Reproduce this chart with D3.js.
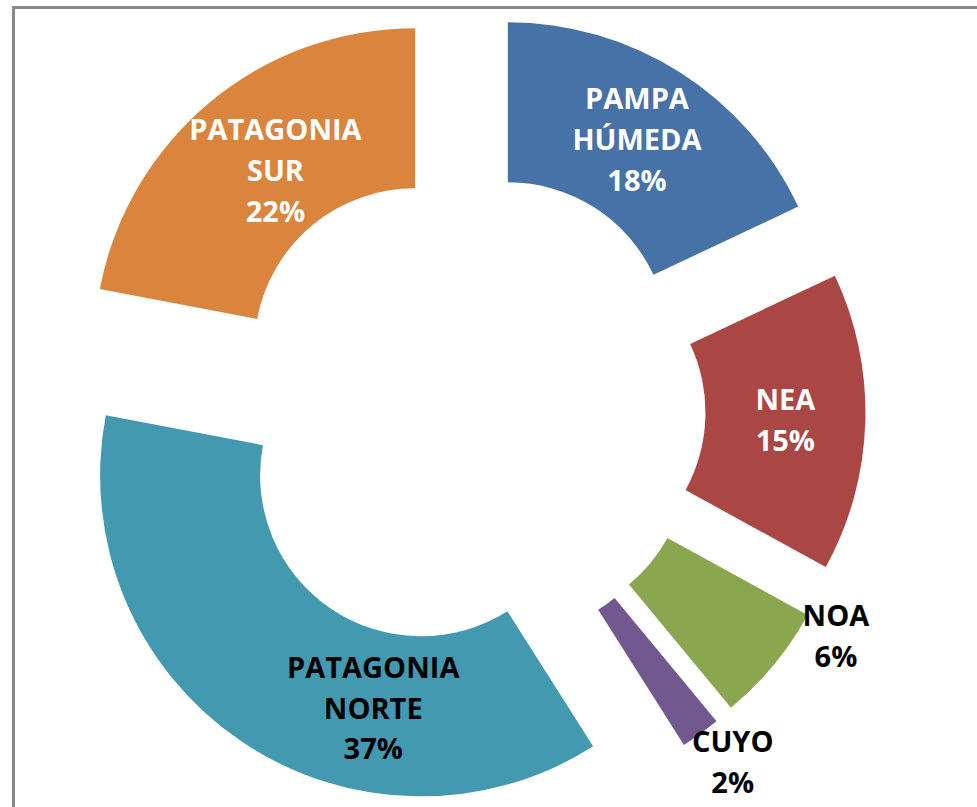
<!DOCTYPE html>
<html>
<head>
<meta charset="utf-8">
<script src="https://cdn.jsdelivr.net/npm/d3@7"></script>
<style>
  body { margin: 0; background: #fff; }
  text { font-family: "Open Sans", "Liberation Sans", sans-serif; font-weight: bold; }
</style>
</head>
<body>
<script>
(function(){
//chart data
var regions = ["PAMPA HÚMEDA", "NEA", "NOA", "CUYO", "PATAGONIA NORTE", "PATAGONIA SUR"];
var shares = [18, 15, 6, 2, 37, 22];
var labelLines = [["PAMPA", "HÚMEDA"], ["NEA"], ["NOA"], ["CUYO"], ["PATAGONIA", "NORTE"], ["PATAGONIA", "SUR"]];
var colors = ["#4672A8", "#AA4744", "#8AA64F", "#71598F", "#4399AF", "#DB843E"];
var labelColors = ["#fff", "#fff", "#000", "#000", "#000", "#fff"];

window.onload = setChart();

function setChart(){
    var width = 977,
        height = 807;

    var svg = d3.select("body")
        .append("svg")
        .attr("width", width)
        .attr("height", height);

    //frame (only left and top edges visible in the crop)
    svg.append("rect")
        .attr("x", 13.5)
        .attr("y", 7.5)
        .attr("width", width)
        .attr("height", height)
        .style("fill", "none")
        .style("stroke", "#888")
        .style("stroke-width", 3);

    //doughnut geometry
    var cx = 465.5, cy = 410,
        outerR = 321, innerR = 161,
        explode = 79;

    var pie = d3.pie()
        .sort(null)
        .value(function(d){ return d; });

    var arc = d3.arc()
        .innerRadius(innerR)
        .outerRadius(outerR);

    var arcs = pie(shares);

    var g = svg.append("g")
        .attr("transform", "translate(" + cx + "," + cy + ")");

    //offset of a slice along its bisector
    function shift(d){
        var mid = (d.startAngle + d.endAngle) / 2;
        return [explode * Math.sin(mid), -explode * Math.cos(mid)];
    };

    g.selectAll(".slice")
        .data(arcs)
        .enter()
        .append("path")
        .attr("class", "slice")
        .attr("d", arc)
        .attr("transform", function(d){
            var s = shift(d);
            return "translate(" + s[0] + "," + s[1] + ")";
        })
        .style("fill", function(d, i){ return colors[i]; });

    //labels that were dragged away from the centroid (angle in degrees, distance from centre)
    var moved = { 2: [121.4, 434], 3: [142.8, 442], 4: [197.2, 312], 5: [321.6, 306] };

    var lineH = 41;
    var labels = g.selectAll(".label")
        .data(arcs)
        .enter()
        .append("text")
        .attr("class", "label")
        .attr("text-anchor", "middle")
        .style("font-size", "29px")
        .style("fill", function(d, i){ return labelColors[i]; })
        .attr("transform", function(d, i){
            var p;
            if (moved[i]){
                var a = moved[i][0] * Math.PI / 180;
                p = [moved[i][1] * Math.sin(a), -moved[i][1] * Math.cos(a)];
            } else {
                var c = arc.centroid(d), s = shift(d);
                p = [c[0] + s[0], c[1] + s[1]];
            };
            return "translate(" + p[0] + "," + p[1] + ")";
        });

    labels.each(function(d, i){
        var lines = labelLines[i].concat([shares[i] + "%"]);
        var t = d3.select(this);
        var top = -(lines.length - 1) * lineH / 2;
        lines.forEach(function(l, k){
            t.append("tspan")
                .attr("x", 0)
                .attr("y", top + k * lineH)
                .attr("dy", "0.36em")
                .text(l);
        });
    });
};
})();
</script>
</body>
</html>
